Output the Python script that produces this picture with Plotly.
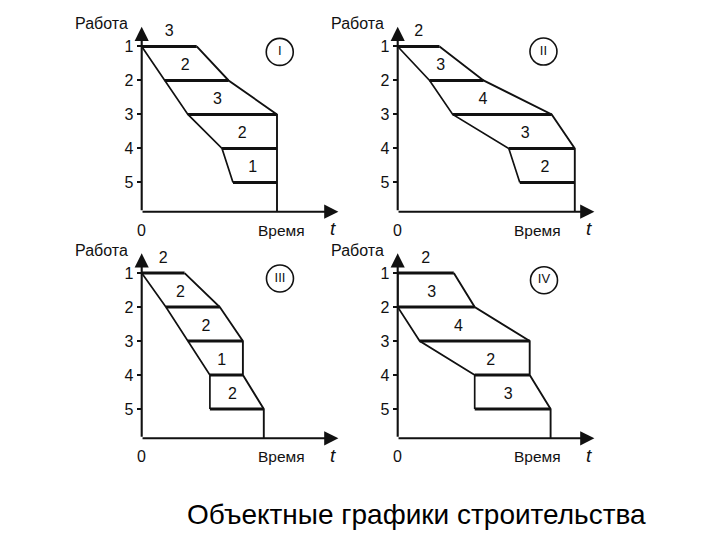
import plotly.graph_objects as go

# ---------------- data ----------------
rows = [1, 2, 3, 4, 5]

p1_start = [0.0, 2.1, 4.2, 7.3, 8.3]
p1_end = [5.0, 7.9, 12.3, 12.3, 12.3]
p1_labels = ["3", "2", "3", "2", "1"]

p2_start = [0.0, 2.9, 5.0, 10.1, 11.1]
p2_end = [3.8, 7.8, 14.0, 16.1, 16.1]
p2_labels = ["2", "3", "4", "3", "2"]

p3_start = [0.0, 2.2, 4.2, 6.2, 6.2]
p3_end = [3.9, 7.1, 9.2, 9.2, 11.1]
p3_labels = ["2", "2", "2", "1", "2"]

p4_start = [0.0, 0.0, 2.0, 7.0, 7.0]
p4_end = [5.1, 7.0, 12.0, 12.0, 13.9]
p4_labels = ["2", "3", "4", "2", "3"]

panel_names = ["I", "II", "III", "IV"]
tick_labels = ["1", "2", "3", "4", "5"]
y_title = "Работа"
x_title = "Время"
caption = "Объектные графики строительства"

# ---------------- layout constants ----------------
W, H = 720, 540
PX_X = 11.0          # px per time unit
PX_Y = 34.0          # px per row
X_MAX = 18.0
Y_AXIS = 5.86        # row value where time axis lies
Y_TOP = 0.40
origins = [(141.7, 211.7), (397.7, 211.7), (141.7, 438.3), (397.7, 438.3)]
circle_pos = [(12.55, 1.16), (13.25, 1.15), (12.57, 1.16), (13.3, 1.21)]

INK = "#111111"
FONT = "Liberation Sans, Arial, sans-serif"


def px(xp, yp):
    return xp / W, (H - yp) / H


panels = [
    (p1_start, p1_end, p1_labels),
    (p2_start, p2_end, p2_labels),
    (p3_start, p3_end, p3_labels),
    (p4_start, p4_end, p4_labels),
]

fig = go.Figure()
annotations = []
layout_axes = {}

for i, ((st, en, lab), (ox, oy)) in enumerate(zip(panels, origins)):
    n = i + 1
    xa = "x" if n == 1 else f"x{n}"
    ya = "y" if n == 1 else f"y{n}"
    xkey = "xaxis" if n == 1 else f"xaxis{n}"
    ykey = "yaxis" if n == 1 else f"yaxis{n}"

    x0 = ox / W
    x1 = (ox + X_MAX * PX_X) / W
    ybot = (H - oy) / H
    ytop = (H - (oy - (Y_AXIS - Y_TOP) * PX_Y)) / H

    layout_axes[xkey] = dict(domain=[x0, x1], range=[0, X_MAX], anchor=ya,
                             showgrid=False, zeroline=False, showline=False,
                             showticklabels=False, ticks="", fixedrange=True)
    layout_axes[ykey] = dict(domain=[ybot, ytop], range=[Y_AXIS, Y_TOP], anchor=xa,
                             showgrid=False, zeroline=False, showline=False,
                             tickmode="array", tickvals=rows, ticktext=tick_labels,
                             ticks="outside", ticklen=4, tickwidth=1.6, tickcolor=INK,
                             ticklabelstandoff=0,
                             tickfont=dict(family=FONT, size=16, color=INK),
                             automargin=False, fixedrange=True)

    # horizontal work bars (thick)
    hx, hy = [], []
    for s, e, r in zip(st, en, rows):
        hx += [s, e, None]
        hy += [r, r, None]
    fig.add_trace(go.Scatter(x=hx, y=hy, mode="lines", xaxis=xa, yaxis=ya,
                             line=dict(color=INK, width=3), hoverinfo="skip",
                             showlegend=False))
    # left boundary
    fig.add_trace(go.Scatter(x=st, y=rows, mode="lines", xaxis=xa, yaxis=ya,
                             line=dict(color=INK, width=1.7), hoverinfo="skip",
                             showlegend=False))
    # right boundary down to the time axis
    fig.add_trace(go.Scatter(x=en + [en[-1]], y=rows + [Y_AXIS], mode="lines",
                             xaxis=xa, yaxis=ya,
                             line=dict(color=INK, width=1.9), hoverinfo="skip",
                             showlegend=False))

    # intensity numbers
    lx, ly = [], []
    for k in range(5):
        yl = rows[k] - 0.42
        if k == 0:
            xc = (st[0] + en[0]) / 2
        else:
            f = (yl - rows[k - 1]) / (rows[k] - rows[k - 1])
            left = st[k - 1] + f * (st[k] - st[k - 1])
            right = en[k - 1] + f * (en[k] - en[k - 1])
            xc = (left + right) / 2
        lx.append(xc)
        ly.append(yl)
    fig.add_trace(go.Scatter(x=lx, y=ly, mode="text", text=lab, xaxis=xa, yaxis=ya,
                             textfont=dict(family=FONT, size=16, color=INK),
                             hoverinfo="skip", showlegend=False, cliponaxis=False))

    # circled roman numeral
    cx, cy = circle_pos[i]
    fig.add_trace(go.Scatter(x=[cx], y=[cy], mode="markers+text", text=[panel_names[i]],
                             textposition="middle center", xaxis=xa, yaxis=ya,
                             marker=dict(symbol="circle-open", size=27,
                                         line=dict(color=INK, width=1.6), color=INK),
                             textfont=dict(family=FONT, size=13, color=INK),
                             hoverinfo="skip", showlegend=False, cliponaxis=False))

    # axes with arrows
    annotations.append(dict(x=0, y=Y_TOP + 0.02, ax=0, ay=Y_AXIS, xref=xa, yref=ya,
                            axref=xa, ayref=ya, text="", showarrow=True,
                            arrowhead=2, arrowsize=1.35, arrowwidth=2.1, arrowcolor=INK,
                            standoff=0, startstandoff=0))
    annotations.append(dict(x=X_MAX - 0.12, y=Y_AXIS, ax=-0.06, ay=Y_AXIS, xref=xa, yref=ya,
                            axref=xa, ayref=ya, text="", showarrow=True,
                            arrowhead=2, arrowsize=1.35, arrowwidth=2.1, arrowcolor=INK,
                            standoff=0, startstandoff=0))
    # axis texts (paper coordinates, positioned relative to the panel origin)
    tx, ty = px(ox, oy + 18.5)
    annotations.append(dict(x=tx, y=ty, xref="paper", yref="paper", text="0",
                            showarrow=False, xanchor="center", yanchor="middle",
                            font=dict(family=FONT, size=16, color=INK)))
    tx, ty = px(ox + 140, oy + 18.5)
    annotations.append(dict(x=tx, y=ty, xref="paper", yref="paper", text=x_title,
                            showarrow=False, xanchor="center", yanchor="middle",
                            font=dict(family=FONT, size=15.5, color=INK)))
    tx, ty = px(ox + 191.5, oy + 17)
    annotations.append(dict(x=tx, y=ty, xref="paper", yref="paper", text="<i>t</i>",
                            showarrow=False, xanchor="center", yanchor="middle",
                            font=dict(family=FONT, size=19, color=INK)))
    tx, ty = px(ox - 40, oy - 188)
    annotations.append(dict(x=tx, y=ty, xref="paper", yref="paper", text=y_title,
                            showarrow=False, xanchor="center", yanchor="middle",
                            font=dict(family=FONT, size=16, color=INK)))

cx_, cy_ = px(416.7, 514)
annotations.append(dict(x=cx_, y=cy_, xref="paper", yref="paper",
                        text=caption, showarrow=False, xanchor="center", yanchor="middle",
                        font=dict(family=FONT, size=28, color="#000000")))

fig.update_layout(width=W, height=H, margin=dict(l=0, r=0, t=0, b=0, autoexpand=False),
                  paper_bgcolor="white", plot_bgcolor="white",
                  annotations=annotations, showlegend=False, **layout_axes)

fig.write_html("out.html", config={"displayModeBar": False},
               post_script="document.body.style.margin='0px';document.body.style.padding='0px';")
